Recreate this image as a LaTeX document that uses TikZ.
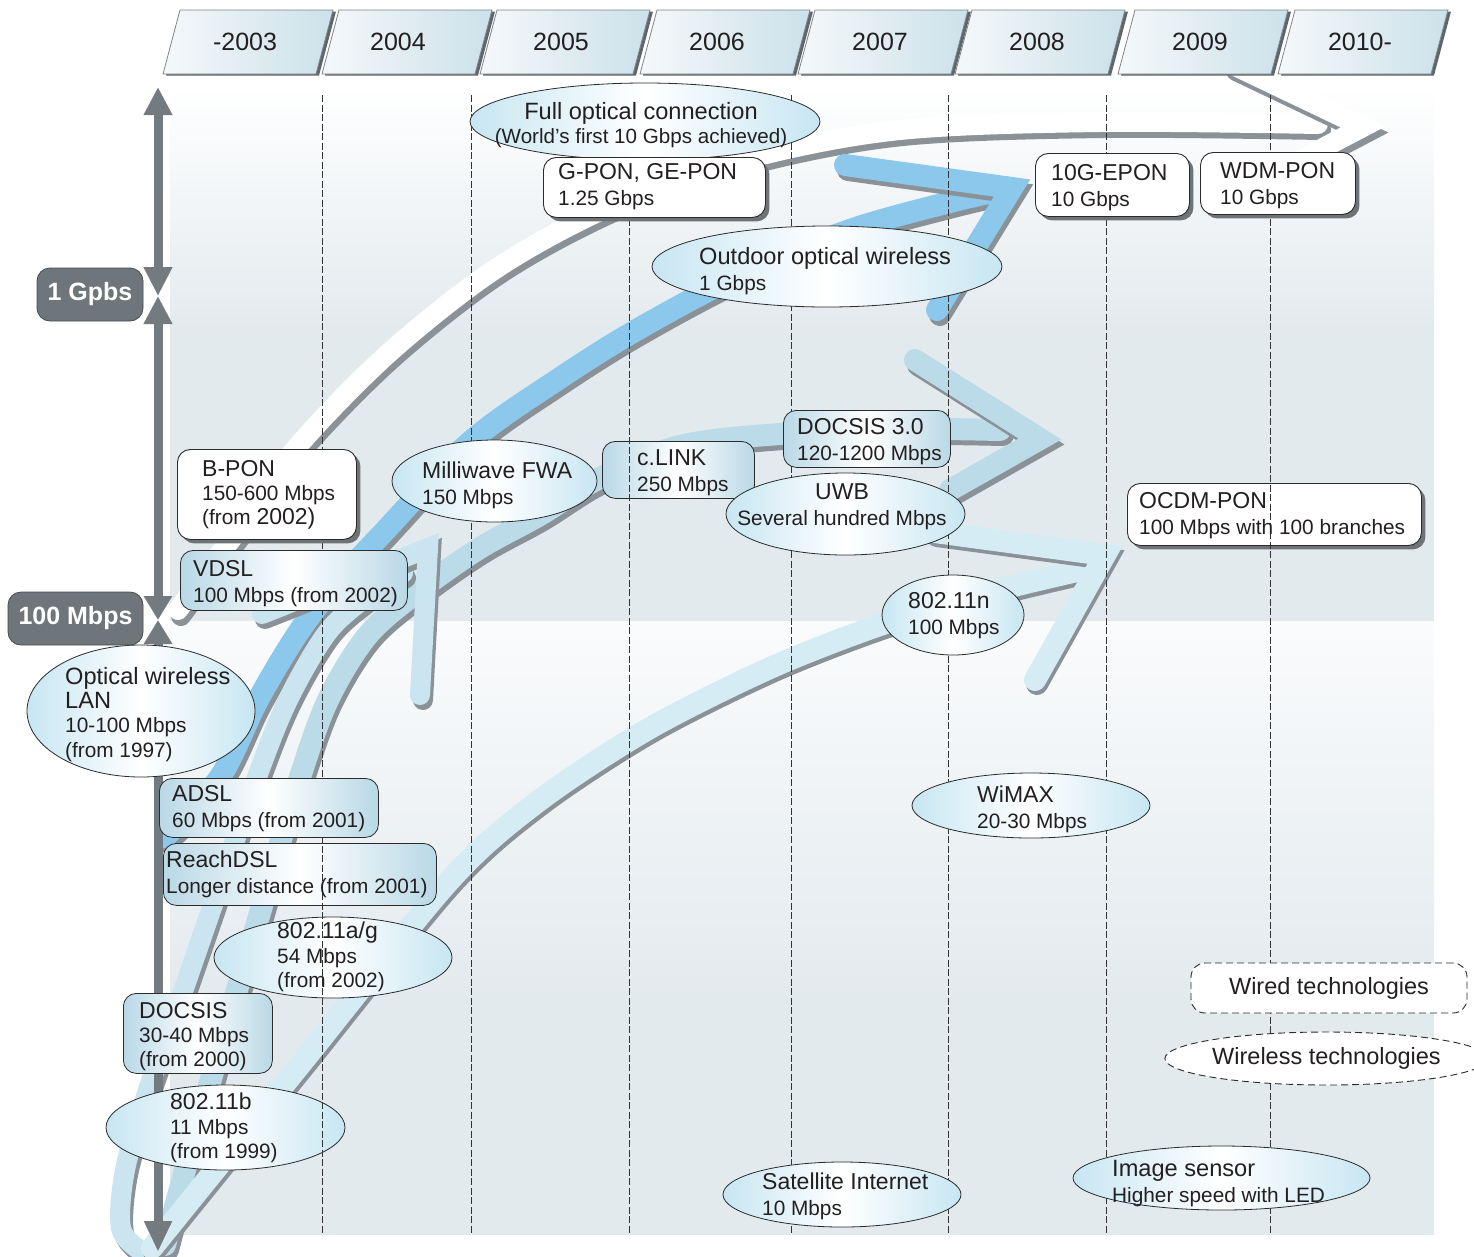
\documentclass[tikz,border=0pt]{standalone}
\usepackage{fontspec}
\setmainfont{Liberation Sans}
\usetikzlibrary{shapes.geometric,shadows,arrows.meta}
\definecolor{txtc}{HTML}{231F20}
\definecolor{edgec}{HTML}{2B2B2B}
\definecolor{boxsh}{HTML}{6D7377}
\definecolor{lblc}{HTML}{6E767B}
\definecolor{lbledge}{HTML}{474D51}
\definecolor{axc}{HTML}{737A80}
\definecolor{shc}{HTML}{8A9297}
\definecolor{bluec}{HTML}{8BC8EC}
\definecolor{cablec}{HTML}{BCDBE8}
\definecolor{dslc}{HTML}{CAE5F0}
\definecolor{wlc}{HTML}{D5ECF5}
\definecolor{bgc}{HTML}{E3EAEE}
\definecolor{bgtop}{HTML}{FAFBFC}
\definecolor{boxc}{HTML}{B9D8E6}
\definecolor{ellc}{HTML}{C7E6F2}
\definecolor{hdrL}{HTML}{F5F8FA}
\definecolor{hdrR}{HTML}{CCE1EA}
\definecolor{hdredge}{HTML}{7E8589}
\definecolor{hdrsh}{HTML}{5F666B}
\definecolor{gridc}{HTML}{333333}
\newcommand\tlfont{\fontsize{23}{25}\selectfont}
\newcommand\sbfont{\fontsize{20.8}{25}\selectfont}
\newcommand\band[4]{%
  \draw[draw=shc, line width=#2pt, line cap=round, line join=round, shift={#3}] #4;
  \draw[draw=#1, line width=#2pt, line cap=round, line join=round] #4;}
\newcommand\head[6]{%
  \draw[draw=shc, line width=#2pt, line cap=round, line join=miter, miter limit=20, shift={#3}] #4 -- #5 -- #6;
  \draw[draw=#1, line width=#2pt, line cap=round, line join=miter, miter limit=20] #4 -- #5 -- #6;}
\begin{document}
\begin{tikzpicture}[x=1pt,y=-1pt,
  txt/.style={anchor=north west, inner sep=0pt, align=left, text=txtc, font=\fontsize{20.8}{26}\selectfont},
  txtt/.style={anchor=north west, inner sep=0pt, align=left, text=txtc, font=\fontsize{20.8}{24.3}\selectfont},
  ctxt/.style={anchor=north, inner sep=0pt, align=center, text=txtc, font=\fontsize{20.8}{24.5}\selectfont},
  wbox/.style={rectangle, draw=edgec, fill=white, line width=0.9pt, rounded corners=13pt, anchor=north west, inner sep=0pt,
     drop shadow={shadow xshift=4pt, shadow yshift=-4pt, fill=boxsh, opacity=1}},
  gbox/.style={rectangle, draw=edgec, line width=0.8pt, rounded corners=13pt, anchor=north west, inner sep=0pt,
     left color=boxc, right color=boxc, middle color=white},
  gell/.style={ellipse, draw=edgec, line width=0.8pt, inner sep=0pt, left color=ellc, right color=ellc, middle color=white},
  lbl/.style={rectangle, rounded corners=13pt, fill=lblc, draw=lbledge, line width=0.8pt, text=white,
     font=\bfseries\fontsize{25}{30}\selectfont, inner sep=0pt},
  gridln/.style={draw=gridc, line width=0.9pt, dash pattern=on 7pt off 2.5pt},
  yr/.style={font=\fontsize{25}{30}\selectfont, text=txtc, inner sep=0pt},
  legend/.style={draw=edgec, fill=white, line width=0.9pt, dash pattern=on 7pt off 4pt, text=txtc,
     font=\fontsize{23.5}{28}\selectfont, inner sep=0pt},
  axarrow/.style={draw=axc, line width=9pt},
]
\useasboundingbox (0,0) rectangle (1474,1256);
\fill[white] (0,0) rectangle (1474,1256);
% background panel
\fill[top color=white, bottom color=bgc] (170,88) rectangle (1434,330);
\fill[bgc] (170,329) rectangle (1434,621);
\fill[top color=bgtop, bottom color=bgc] (170,621) rectangle (1434,1000);
\fill[bgc] (170,999) rectangle (1434,1235);

% white arrow (optical wired)
\band{white}{20}{(3,6)}{plot[smooth,tension=0.55] coordinates {(178,610) (215,560) (250,515) (297,447) (390,352) (500,266) (620,202) (750,158) (900,130) (1100,122) (1318,124)}}
\head{white}{20}{(3,6)}{(1233,65)}{(1363,127)}{(1300,160)}

% blue arrow (optical wireless)
\band{bluec}{22}{(3,5)}{plot[smooth,tension=0.55] coordinates {(165,837) (220,777) (258,700) (298,633) (335,585) (383,533) (470,442) (560,378) (640,328) (740,275) (850,230) (950,202) (1002,190)}}
\head{bluec}{22}{(3,5)}{(845,165)}{(1012,188)}{(937,310)}

% cable arrow
\band{cablec}{22}{(3,5)}{plot[smooth,tension=0.55] coordinates {(165,1245) (185,1170) (205,1100) (228,1020) (255,930) (278,850) (300,777) (328,700) (368,635) (420,590) (480,548) (540,515) (600,478) (680,446) (780,434) (900,429) (1000,430)}}
\head{cablec}{22}{(3,5)}{(915,360)}{(1040,439)}{(950,490)}

% DSL arrow
\band{dslc}{20}{(3,5)}{plot[smooth,tension=0.55] coordinates {(140,1250) (121,1228) (125,1170) (148,1090) (180,1000) (218,890) (257,777) (288,700) (327,633) (365,598) (403,573)}}
\head{dslc}{20}{(3,5)}{(262,614)}{(428,548)}{(420,695)}

% wireless arrow
\band{wlc}{22}{(2,4)}{plot[smooth,tension=0.5] coordinates {(152,1248) (300,1065) (450,880) (540,800) (650,728) (770,668) (880,625) (990,592) (1090,568)}}
\head{wlc}{22}{(2,4)}{(935,532)}{(1105,555)}{(1035,680)}

% axis
\draw[axarrow, {Triangle[width=27pt,length=28pt]}-{Triangle[width=27pt,length=29pt]}] (158,87) -- (158,296);
\draw[axarrow, {Triangle[width=27pt,length=28pt]}-{Triangle[width=27pt,length=24pt]}] (158,296) -- (158,620);
\draw[axarrow, {Triangle[width=27pt,length=24pt]}-{Triangle[width=26pt,length=31pt]}] (158,620) -- (158,1252);

% shapes crossed by grid lines
\node[gbox, minimum width=152pt, minimum height=57pt] (clink) at (602,441) {};
\node[gbox, minimum width=273pt, minimum height=62pt] (reach) at (163,843) {};
\node[gell, minimum width=238pt, minimum height=81pt] (ag) at (333,957.5) {};
\node[gell, minimum width=239pt, minimum height=85pt] (b11) at (225.5,1127.5) {};
\node[wbox, minimum width=294pt, minimum height=62pt] (ocdm) at (1127,483) {};

% grid lines
\foreach \gx in {322,471,629,791,948,1106,1270} \draw[gridln] (\gx,95) -- (\gx,1234);

% other shapes
\node[gell, minimum width=350pt, minimum height=77pt] (full) at (645,121.5) {};
\node[wbox, minimum width=222pt, minimum height=60pt] (gpon) at (543,157) {};
\node[wbox, minimum width=154pt, minimum height=63pt] (epon) at (1035,153) {};
\node[wbox, minimum width=155pt, minimum height=62pt] (wdm) at (1200,152) {};
\node[gell, minimum width=350pt, minimum height=81pt] (outdoor) at (827,266.5) {};
\node[wbox, minimum width=179pt, minimum height=90pt] (bpon) at (177,449) {};
\node[gbox, minimum width=227pt, minimum height=60pt] (vdsl) at (180,550) {};
\node[gell, minimum width=205pt, minimum height=82pt] (milli) at (494.5,481) {};
\node[gbox, minimum width=167pt, minimum height=57pt] (docsis3) at (783,410) {};
\node[gell, minimum width=239pt, minimum height=82pt] (uwb) at (845.5,514) {};
\node[gell, minimum width=142pt, minimum height=80pt] (n11) at (953,615) {};
\node[gell, minimum width=228pt, minimum height=132pt] (owlan) at (141,711) {};
\node[gbox, minimum width=219pt, minimum height=59pt] (adsl) at (159,778) {};
\node[gell, minimum width=238pt, minimum height=65pt] (wimax) at (1031,805.5) {};
\node[gbox, minimum width=149pt, minimum height=80pt] (docsis) at (123,993) {};
\node[gell, minimum width=238pt, minimum height=65pt] (sat) at (842,1194.5) {};
\node[gell, minimum width=297pt, minimum height=64pt] (img) at (1221.5,1178) {};

% legend
\node[legend, rectangle, rounded corners=14pt, minimum width=276pt, minimum height=50pt] (wired) at (1329,988) {Wired technologies};
\node[legend, ellipse, minimum width=293pt, minimum height=53pt] (wless) at (1326.5,1058.5) {Wireless technologies};

% speed labels
\node[lbl, minimum width=106pt, minimum height=53pt] (gbps) at (90,294.5) {1 Gpbs};
\node[lbl, minimum width=135pt, minimum height=53pt] (mbps) at (75.5,618.5) {100 Mbps};

% year headers
\foreach \x/\c/\t [count=\i] in {163/245/-2003, 322/398/2004, 480/561/2005, 640/717/2006, 798/880/2007, 955/1037/2008, 1118/1200/2009, 1278/1360/2010-}{
  \fill[hdrsh] (\x+3,75.5) -- (\x+156,75.5) -- (\x+173,11.5) -- (\x+20,11.5) -- cycle;
  \draw[draw=hdredge, line width=0.8pt, left color=hdrL, right color=hdrR] (\x,74) -- (\x+153,74) -- (\x+170,10) -- (\x+17,10) -- cycle;
  \node[yr] (yr\i) at (\c,42) {\t};
}

% texts
\node[ctxt] (fullT) at (641,102) {{\fontsize{23.6}{25}\selectfont Full optical connection}\\{\fontsize{20.6}{25}\selectfont (World's first 10 Gbps achieved)}};
\node[txt] (gponT) at (558,163) {{\tlfont G-PON, GE-PON}\\1.25 Gbps};
\node[txt] (eponT) at (1051,164) {{\tlfont 10G-EPON}\\10 Gbps};
\node[txt] (wdmT) at (1220,162) {{\tlfont WDM-PON}\\10 Gbps};
\node[txt] (outdoorT) at (699,247) {{\fontsize{23.6}{25}\selectfont Outdoor optical wireless}\\1 Gbps};
\node[txtt] (bponT) at (202,460) {{\tlfont B-PON}\\150-600 Mbps\\(from {\tlfont 2002)}};
\node[txt] (vdslT) at (193,560) {{\tlfont VDSL}\\100 Mbps (from 2002)};
\node[txt] (milliT) at (422,462) {{\tlfont Milliwave FWA}\\150 Mbps};
\node[txt] (clinkT) at (637,449) {{\tlfont c.LINK}\\250 Mbps};
\node[txt] (docsis3T) at (797,418) {{\tlfont DOCSIS 3.0}\\120-1200 Mbps};
\node[ctxt] (uwbT) at (842,483) {{\tlfont UWB}\\[1.5pt]Several hundred Mbps};
\node[txt] (ocdmT) at (1139,492) {{\tlfont OCDM-PON}\\100 Mbps with 100 branches};
\node[txt] (n11T) at (908,592) {{\tlfont 802.11n}\\100 Mbps};
\node[txtt] (owlanT) at (65,667) {{\fontsize{23.6}{25}\selectfont Optical wireless}\\{\fontsize{23.6}{25}\selectfont LAN}\\10-100 Mbps\\(from 1997)};
\node[txt] (adslT) at (172,785) {{\tlfont ADSL}\\60 Mbps (from 2001)};
\node[txt] (reachT) at (166,851) {{\tlfont ReachDSL}\\Longer distance (from 2001)};
\node[txtt] (agT) at (277,922) {{\tlfont 802.11a/g}\\54 Mbps\\(from 2002)};
\node[txt] (wimaxT) at (977,786) {{\tlfont WiMAX}\\20-30 Mbps};
\node[txtt] (docsisT) at (139,1002) {{\tlfont DOCSIS}\\30-40 Mbps\\(from 2000)};
\node[txtt] (b11T) at (170,1093) {{\tlfont 802.11b}\\11 Mbps\\(from 1999)};
\node[txt] (satT) at (762,1173) {{\tlfont Satellite Internet}\\10 Mbps};
\node[txt] (imgT) at (1112,1160) {{\fontsize{23.6}{25}\selectfont Image sensor}\\Higher speed with LED};
\end{tikzpicture}
\end{document}
